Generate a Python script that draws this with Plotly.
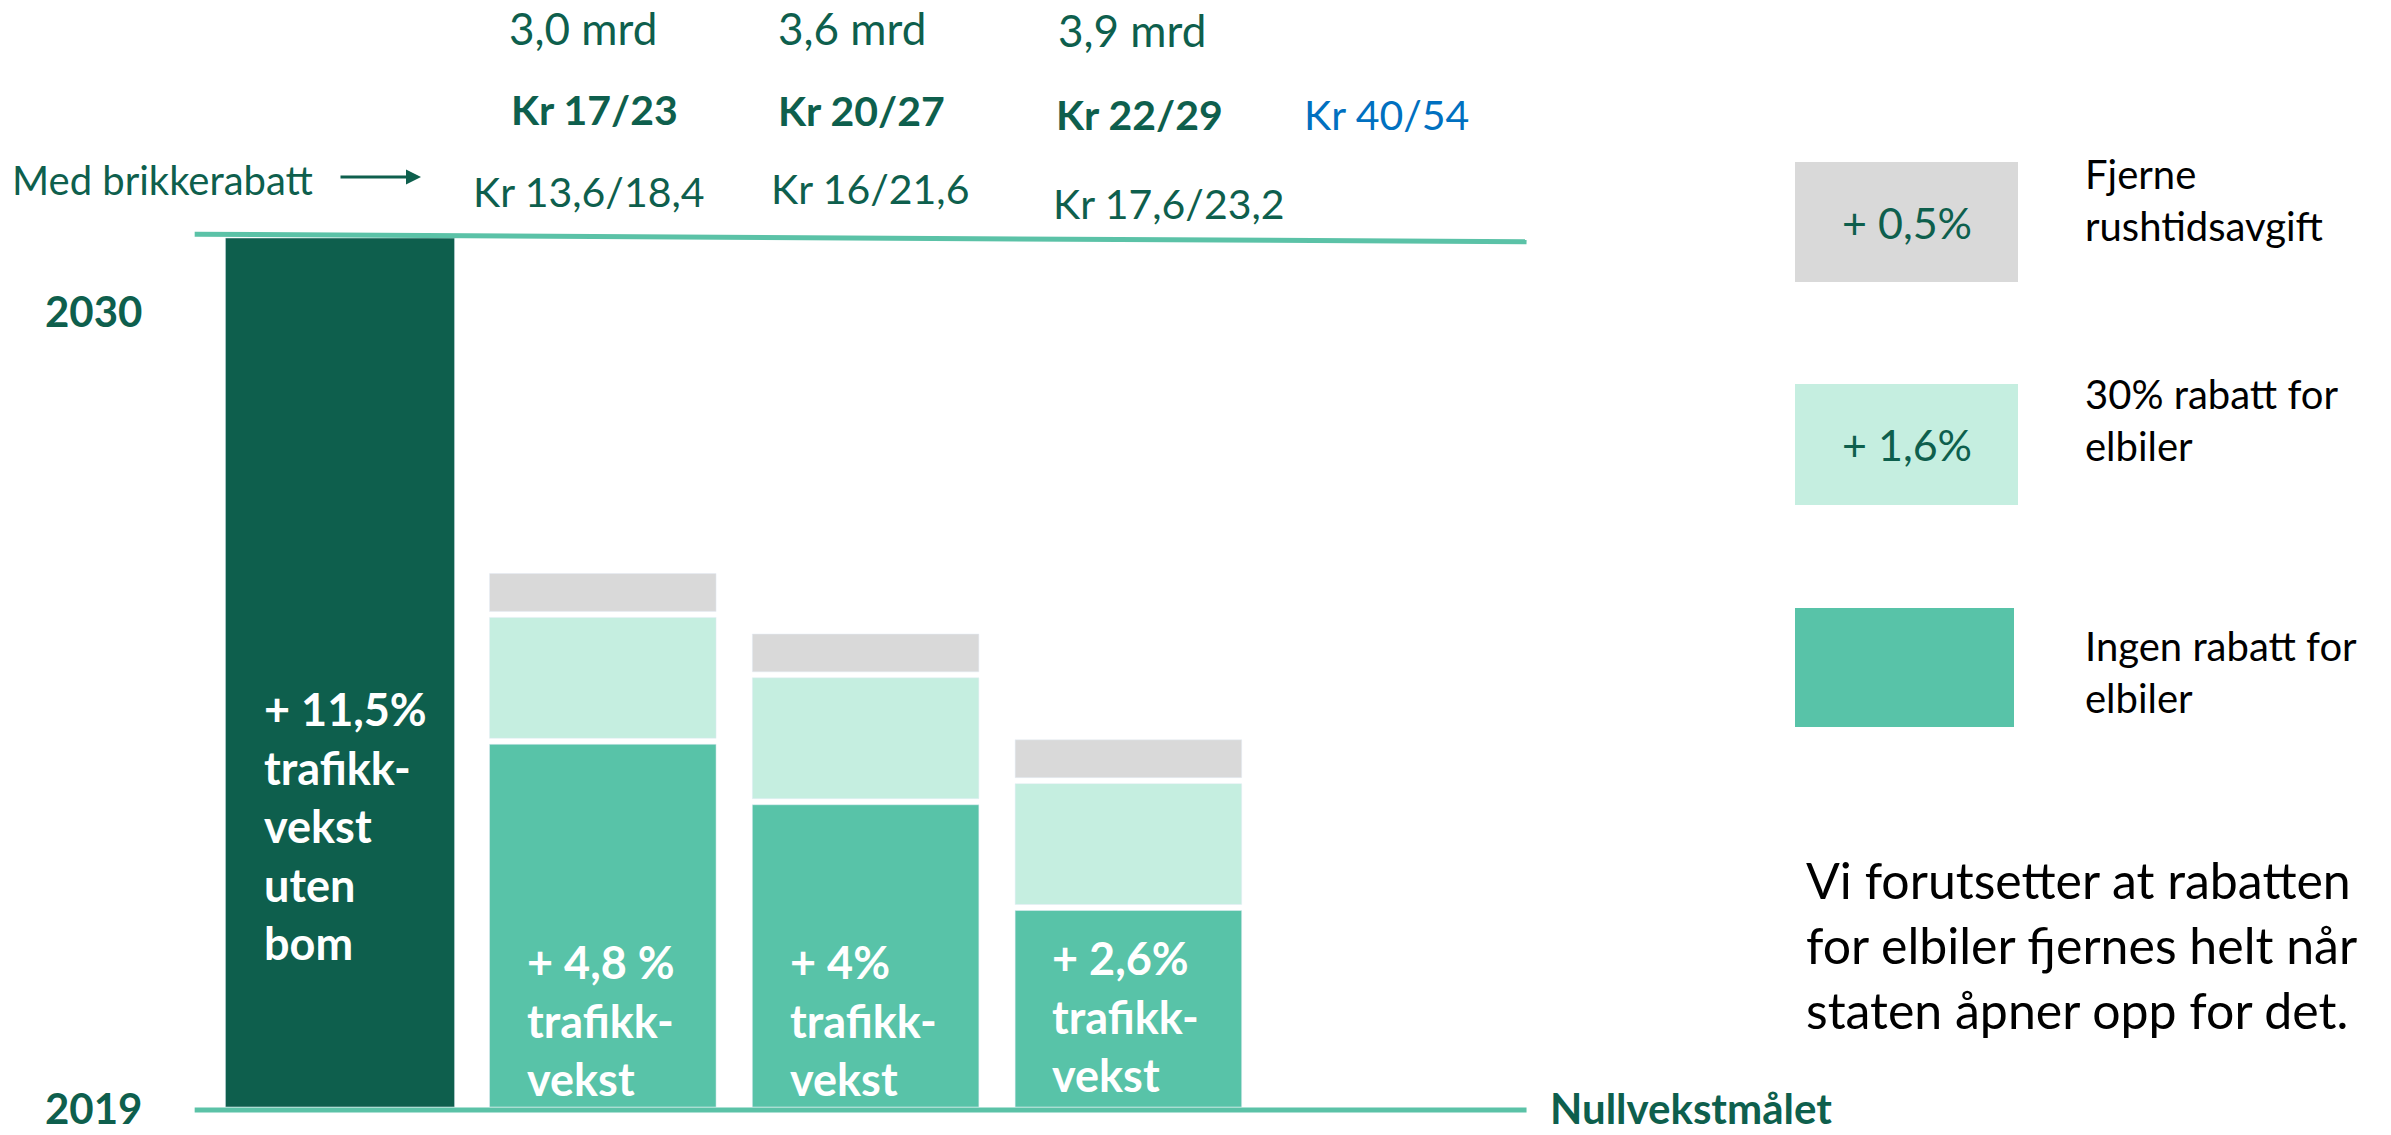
import plotly.graph_objects as go

W, H = 2391, 1135

# ---------------- data ----------------
categories = ["Uten bom", "Kr 17/23", "Kr 20/27", "Kr 22/29", "Kr 40/54"]
baseline_growth = [11.5]            # + 11,5% trafikkvekst uten bom
no_discount = [4.8, 4.0, 2.6]       # Ingen rabatt for elbiler
ev_discount = [1.6, 1.6, 1.6]       # 30% rabatt for elbiler
rush_removed = [0.5, 0.5, 0.5]      # Fjerne rushtidsavgift
revenue_labels = ["3,0 mrd", "3,6 mrd", "3,9 mrd"]
price_labels = ["Kr 17/23", "Kr 20/27", "Kr 22/29", "Kr 40/54"]
chip_price_labels = ["Kr 13,6/18,4", "Kr 16/21,6", "Kr 17,6/23,2"]
bar_texts = ["+ 11,5%<br>trafikk-<br>vekst<br>uten<br>bom",
             "+ 4,8 %<br>trafikk-<br>vekst",
             "+ 4%<br>trafikk-<br>vekst",
             "+ 2,6%<br>trafikk-<br>vekst"]
legend_names = ["Fjerne<br>rushtidsavgift", "30% rabatt for<br>elbiler", "Ingen rabatt for<br>elbiler"]
legend_values = ["+ 0,5%", "+ 1,6%", ""]
note_text = "Vi forutsetter at rabatten<br>for elbiler fjernes helt når<br>staten åpner opp for det."

# ---------------- style ----------------
DARK = "#0E5F4D"
TEAL = "#58C3A8"
MINT = "#C5EEE0"
GRAY = "#D9D9D9"
BLUE = "#0070C0"
LINE = "#5BC2A7"
FONT = "Lato, 'Open Sans', sans-serif"


def pxx(x):
    return x / W


def pxy(y):
    return 1 - y / H


# axis mapping (pixels): category i centre at 340 + 262.8 i ; value 0 at y=1107, 11.5 at y=238
step = 262.8
x0_pix = 340
xmin = -x0_pix / step
xmax = (W - x0_pix) / step
ppu = (1107 - 238) / 11.5
ymax = 1107 / ppu
ymin = -(H - 1107) / ppu
gap = 6 / ppu   # white gap between stacked segments (6 px)

mint_base = [t + gap for t in no_discount]
gray_base = [t + m + 2 * gap for t, m in zip(no_discount, ev_discount)]

fig = go.Figure()
fig.add_trace(go.Bar(x=categories[:1], y=baseline_growth, marker=dict(color=DARK),
                     width=0.872, name="Uten bom"))
fig.add_trace(go.Bar(x=categories[1:4], y=no_discount, marker=dict(color=TEAL),
                     width=0.862, name="Ingen rabatt for elbiler"))
fig.add_trace(go.Bar(x=categories[1:4], y=ev_discount, base=mint_base, marker=dict(color=MINT),
                     width=0.862, name="30% rabatt for elbiler"))
fig.add_trace(go.Bar(x=categories[1:4], y=rush_removed, base=gray_base, marker=dict(color=GRAY),
                     width=0.862, name="Fjerne rushtidsavgift"))

annotations = []
shapes = []

# reference lines (2030 level and nullvekst)
shapes.append(dict(type="line", xref="x", yref="y", x0=-0.553, x1=4.515, y0=11.55, y1=11.45,
                   line=dict(color=LINE, width=5)))
shapes.append(dict(type="line", xref="x", yref="y", x0=-0.553, x1=4.515, y0=-0.04, y1=-0.04,
                   line=dict(color=LINE, width=5)))


def ann(**kw):
    kw.setdefault("showarrow", False)
    kw.setdefault("xanchor", "center")
    kw.setdefault("yanchor", "middle")
    annotations.append(kw)


# top labels
rev_shift = [-20, -14, 4]
rev_top = [0, 0, 2]
for i, t in enumerate(revenue_labels):
    ann(x=categories[i + 1], xref="x", xshift=rev_shift[i], y=pxy(rev_top[i]), yref="paper", yanchor="top",
        text=t, font=dict(family=FONT, size=44, color=DARK))
price_shift = [-8, -4, 11, -5]
price_y = [110, 111, 114, 114]
for i, t in enumerate(price_labels):
    col = BLUE if i == 3 else DARK
    txt = t if i == 3 else "<b>" + t + "</b>"
    ann(x=categories[i + 1], xref="x", xshift=price_shift[i], y=pxy(price_y[i]), yref="paper",
        text=txt, font=dict(family=FONT, size=41, color=col))
chip_shift = [-14, 4, 41]
chip_y = [191, 189, 203]
for i, t in enumerate(chip_price_labels):
    ann(x=categories[i + 1], xref="x", xshift=chip_shift[i], y=pxy(chip_y[i]), yref="paper",
        text=t, font=dict(family=FONT, size=41, color=DARK))

# Med brikkerabatt + arrow
ann(x=pxx(10), y=pxy(180), xref="paper", yref="paper", xanchor="left",
    text="Med brikkerabatt", font=dict(family=FONT, size=40, color=DARK))
annotations.append(dict(x=pxx(421), y=pxy(177), xref="paper", yref="paper", text="",
                        showarrow=True, ax=-82, ay=0, arrowhead=2, arrowsize=1, arrowwidth=3, arrowcolor=DARK))

# year labels
ann(x=pxx(43), y=pxy(311), xref="paper", yref="paper", xanchor="left",
    text="<b>2030</b>", font=dict(family=FONT, size=42, color=DARK))
ann(x=pxx(43), y=0, xref="paper", yref="paper", xanchor="left", yanchor="bottom",
    text="<b>2019</b>", font=dict(family=FONT, size=42, color=DARK))
ann(x=pxx(1548), y=0, xref="paper", yref="paper", xanchor="left", yanchor="bottom",
    text="<b>Nullvekstmålet</b>", font=dict(family=FONT, size=42, color=DARK))

# bar texts
bar_text_y = [826, 1020, 1020, 1016]
for i, t in enumerate(bar_texts):
    ann(x=categories[i], xref="x", xshift=-78, xanchor="left", align="left",
        y=pxy(bar_text_y[i]), yref="paper", text="<b>" + t + "</b>",
        font=dict(family=FONT, size=45, color="white"))

# legend boxes
leg_colors = [GRAY, MINT, TEAL]
leg_boxes = [(1795, 162, 2018, 282), (1795, 384, 2018, 505), (1795, 608, 2014, 727)]
leg_label_y = [200, 420, 672]
for i in range(3):
    bx0, by0, bx1, by1 = leg_boxes[i]
    shapes.append(dict(type="rect", xref="paper", yref="paper", x0=pxx(bx0), x1=pxx(bx1), y0=pxy(by1), y1=pxy(by0),
                       fillcolor=leg_colors[i], line=dict(width=0)))
    if legend_values[i]:
        ann(x=pxx((bx0 + bx1) / 2), y=pxy((by0 + by1) / 2), xref="paper", yref="paper",
            text=legend_values[i], font=dict(family=FONT, size=43, color=DARK))
    ann(x=pxx(2083), y=pxy(leg_label_y[i]), xref="paper", yref="paper", xanchor="left",
        align="left", text=legend_names[i], font=dict(family=FONT, size=40, color="black"))

# note
ann(x=pxx(1804), y=pxy(945), xref="paper", yref="paper", xanchor="left", align="left",
    text=note_text, font=dict(family=FONT, size=50, color="black"))

fig.update_layout(
    width=W, height=H, margin=dict(l=0, r=0, t=0, b=0),
    paper_bgcolor="white", plot_bgcolor="white",
    barmode="overlay", showlegend=False,
    xaxis=dict(type="category", categoryorder="array", categoryarray=categories,
               range=[xmin, xmax], visible=False, fixedrange=True),
    yaxis=dict(range=[ymin, ymax], visible=False, fixedrange=True),
    shapes=shapes, annotations=annotations,
)

fig.write_html("out.html", config={"displayModeBar": False},
               post_script="document.body.style.margin='0';document.body.style.overflow='hidden';")
